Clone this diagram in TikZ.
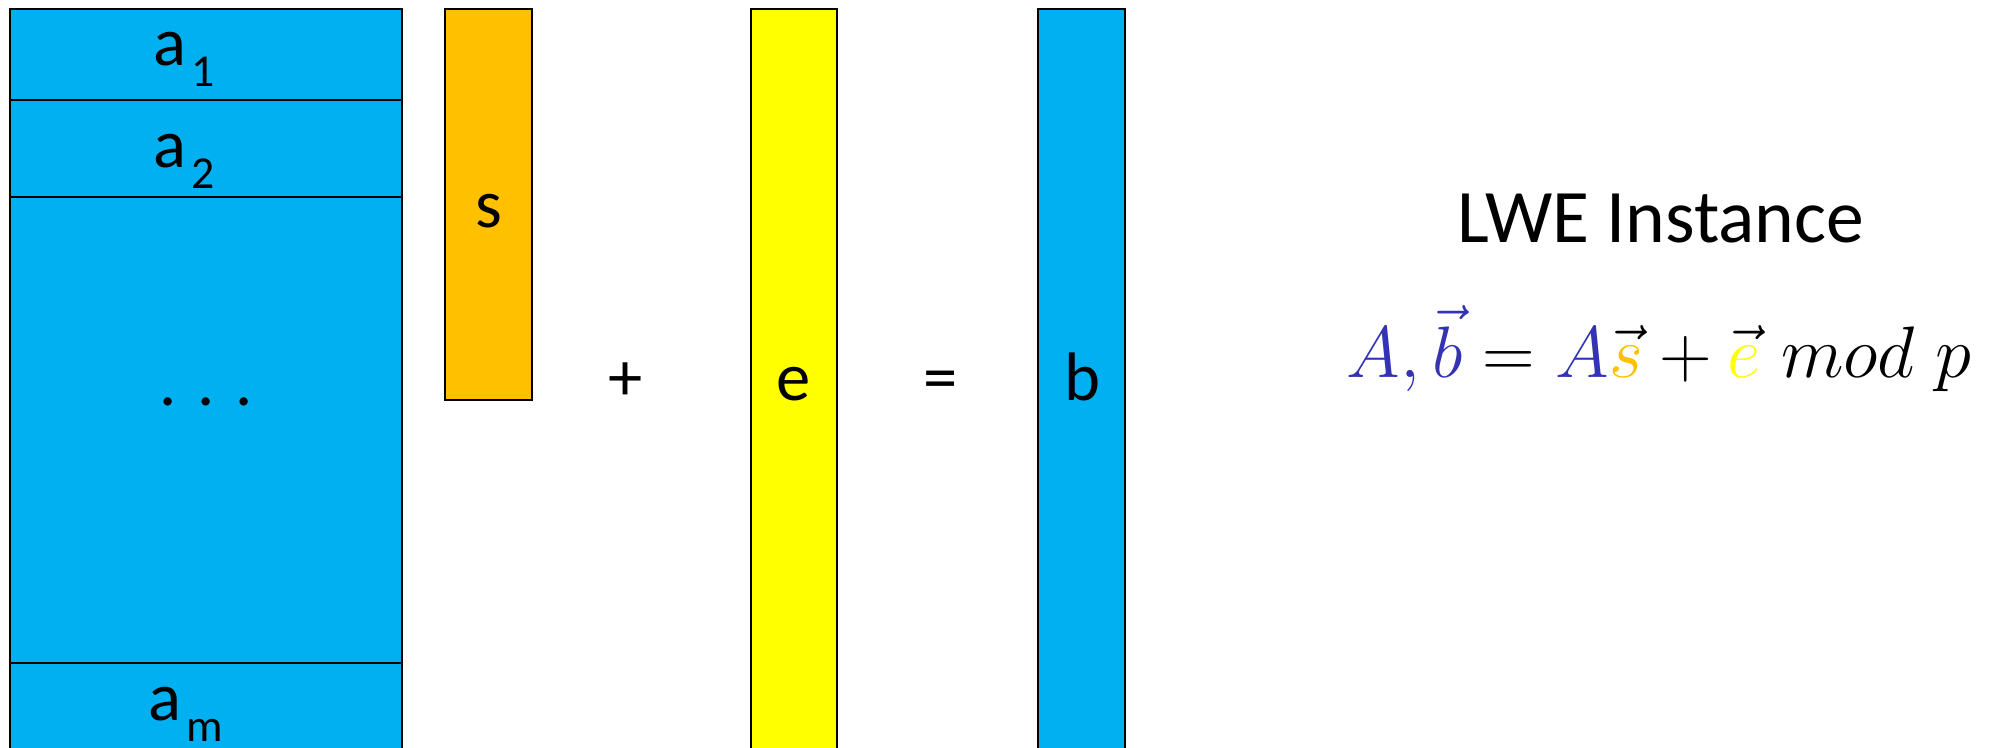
\documentclass[tikz,border=0pt]{standalone}
\usepackage{fontspec}
\setmainfont{Carlito}
\definecolor{cellblue}{RGB}{0,176,240}
\definecolor{cellorange}{RGB}{255,192,0}
\definecolor{cellyellow}{RGB}{255,255,0}
\definecolor{mathblue}{RGB}{51,51,179}
\newcommand{\lblsub}[1]{\kern1.5pt\raisebox{-0.32em}{\fontsize{13}{13}\selectfont #1}}
\tikzset{
  cell/.style={draw=black,line width=0.8pt},
  lbl/.style={anchor=base,inner sep=0pt,font=\fontsize{19.5}{23}\selectfont},
}

\begin{document}
\begin{tikzpicture}[x=0.01cm,y=-0.01cm]
\useasboundingbox (0,0) rectangle (2006,747);
\clip (0,0) rectangle (2006,747);

% matrix A, one row per block
\draw[cell,fill=cellblue] (10,9) rectangle (402,100);
\draw[cell,fill=cellblue] (10,100) rectangle (402,197);
\draw[cell,fill=cellblue] (10,197) rectangle (402,663);
\draw[cell,fill=cellblue] (10,663) rectangle (402,770);
\node[lbl] (rowa1) at (184,65) {a\lblsub{1}};
\node[lbl] (rowa2) at (184,167) {a\lblsub{2}};
\node[lbl] (rowdots) at (206,405) {. . .};
\node[lbl] (rowam) at (186,720) {a\lblsub{m}};

% vectors s, e, b
\draw[cell,fill=cellorange] (445,9) rectangle (532,400);
\node[lbl] (vecs) at (489,227) {s};
\node[lbl] (plus) at (626,400) {+};
\draw[cell,fill=cellyellow] (751,9) rectangle (837,770);
\node[lbl] (vece) at (794,400) {e};
\node[lbl] (equal) at (941,400) {=};
\draw[cell,fill=cellblue] (1038,9) rectangle (1125,770);
\node[lbl] (vecb) at (1082,400) {b};

% caption
\node[anchor=base,inner sep=0pt,font=\fontsize{21.5}{26}\selectfont] (title) at (1661,242) {LWE Instance};
\node[anchor=base,inner sep=0pt,font=\fontsize{22.8}{27}\selectfont] (formula) at (1659,377)
  {$\textcolor{mathblue}{A,\vec{b}} = \textcolor{mathblue}{A}\vec{\textcolor{cellorange}{s}} + \vec{\textcolor{cellyellow}{e}}\; mod\; p$};
\end{tikzpicture}
\end{document}
